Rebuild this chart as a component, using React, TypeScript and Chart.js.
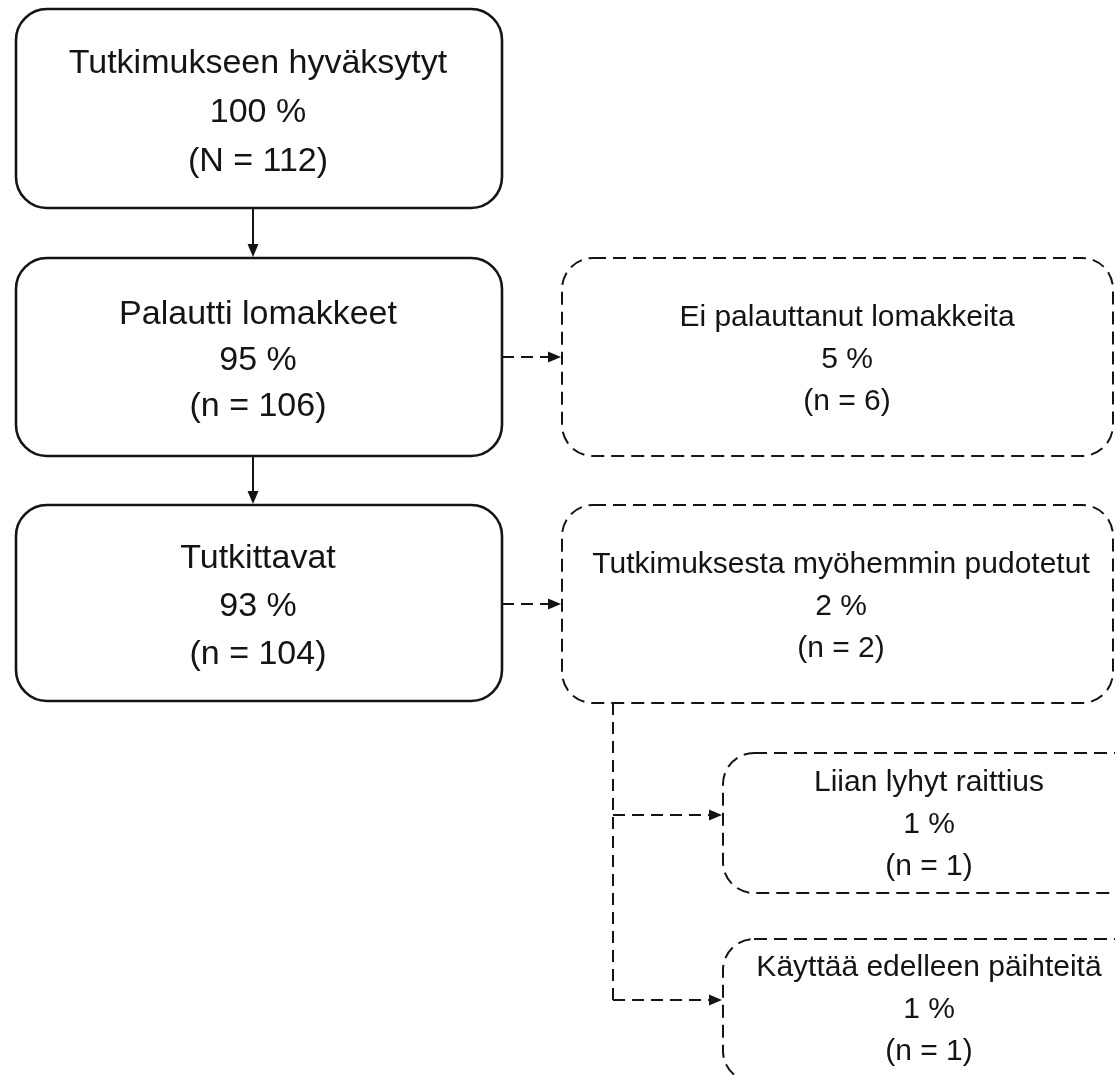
import { useEffect, useRef } from "react";
import { Chart, registerables } from "chart.js";

Chart.register(...registerables);

const W = 1115;
const H = 1075;

// ---- data ----
const stageLabels = [
  "Tutkimukseen hyväksytyt",
  "Palautti lomakkeet",
  "Tutkittavat",
  "Ei palauttanut lomakkeita",
  "Tutkimuksesta myöhemmin pudotetut",
  "Liian lyhyt raittius",
  "Käyttää edelleen päihteitä",
];
const stagePercents = [100, 95, 93, 5, 2, 1, 1];
const stageCounts = [112, 106, 104, 6, 2, 1, 1];
const stageCountSymbols = ["N", "n", "n", "n", "n", "n", "n"];
const stageIsDropout = [false, false, false, true, true, true, true];

// ---- layout (chart units = pixels) ----
const boxLeft = [16, 16, 16, 562, 562, 723, 723];
const boxTop = [9, 258, 505, 258, 505, 753, 939];
const boxRight = [502, 502, 502, 1113, 1113, 1145, 1145];
const boxBottom = [208, 456, 701, 456, 703, 893, 1082];
const textCenterX = [258, 258, 258, 847, 841, 929, 929];
const textMidY = [113, 361, 607, 360, 607, 825, 1010];
const lineGap = [49, 46, 48, 42, 42, 42, 42];
const fontPx = [34, 34, 34, 30, 30, 30, 30];

const flowFrom = [0, 1];
const flowTo = [1, 2];
const flowX = 253;
const sideFrom = [1, 2];
const sideTo = [3, 4];
const sideY = [357, 604];
const trunkX = 613;
const branchTo = [5, 6];
const branchY = [815, 1000];

const INK = "#141414";
const FONT = '"Liberation Sans", Arial, Helvetica, sans-serif';

function arrowHead(ctx: CanvasRenderingContext2D, tx: number, ty: number, dx: number, dy: number) {
  const len = 13;
  const half = 5.5;
  const nx = -dy;
  const ny = dx;
  ctx.save();
  ctx.setLineDash([]);
  ctx.fillStyle = INK;
  ctx.beginPath();
  ctx.moveTo(tx, ty);
  ctx.lineTo(tx - dx * len + nx * half, ty - dy * len + ny * half);
  ctx.lineTo(tx - dx * len - nx * half, ty - dy * len - ny * half);
  ctx.closePath();
  ctx.fill();
  ctx.restore();
}

const flowPlugin = {
  id: "flowPlugin",
  beforeDraw(chart: any) {
    const { ctx } = chart;
    ctx.save();
    ctx.fillStyle = "#ffffff";
    ctx.fillRect(0, 0, chart.width, chart.height);
    ctx.restore();
  },
  afterDatasetsDraw(chart: any) {
    const { ctx } = chart;
    const xs = chart.scales.x;
    const ys = chart.scales.y;
    const px = (v: number) => xs.getPixelForValue(v);
    const py = (v: number) => ys.getPixelForValue(v);

    ctx.save();
    ctx.strokeStyle = INK;
    ctx.lineCap = "butt";

    // boxes
    stageLabels.forEach((label, i) => {
      const x0 = px(boxLeft[i]);
      const x1 = px(boxRight[i]);
      const y0 = py(boxTop[i]);
      const y1 = py(boxBottom[i]);
      ctx.beginPath();
      if (stageIsDropout[i]) {
        ctx.setLineDash([13, 7]);
        ctx.lineWidth = 2;
      } else {
        ctx.setLineDash([]);
        ctx.lineWidth = 2.6;
      }
      ctx.roundRect(x0, y0, x1 - x0, y1 - y0, 31);
      ctx.stroke();

      const lines = [
        label,
        `${stagePercents[i]} %`,
        `(${stageCountSymbols[i]} = ${stageCounts[i]})`,
      ];
      ctx.setLineDash([]);
      ctx.fillStyle = INK;
      ctx.font = `${fontPx[i]}px ${FONT}`;
      ctx.textAlign = "center";
      ctx.textBaseline = "middle";
      const cx = px(textCenterX[i]);
      const cy = py(textMidY[i]);
      lines.forEach((t, k) => {
        ctx.fillText(t, cx, cy + (k - 1) * lineGap[i]);
      });
    });

    // solid vertical flow arrows
    ctx.setLineDash([]);
    ctx.lineWidth = 2;
    flowFrom.forEach((f, k) => {
      const t = flowTo[k];
      const x = px(flowX);
      const y0 = py(boxBottom[f]);
      const y1 = py(boxTop[t]);
      ctx.beginPath();
      ctx.moveTo(x, y0);
      ctx.lineTo(x, y1 - 10);
      ctx.stroke();
      arrowHead(ctx, x, y1 - 1, 0, 1);
    });

    // dashed side arrows
    ctx.lineWidth = 2;
    sideFrom.forEach((f, k) => {
      const t = sideTo[k];
      const y = py(sideY[k]);
      const x0 = px(boxRight[f]);
      const x1 = px(boxLeft[t]);
      ctx.setLineDash([12, 7]);
      ctx.beginPath();
      ctx.moveTo(x0, y);
      ctx.lineTo(x1 - 11, y);
      ctx.stroke();
      arrowHead(ctx, x1 - 1, y, 1, 0);
    });

    // dashed trunk and branches
    ctx.setLineDash([12, 7]);
    ctx.beginPath();
    ctx.moveTo(px(trunkX), py(boxBottom[4]));
    ctx.lineTo(px(trunkX), py(branchY[branchY.length - 1]));
    ctx.stroke();
    branchTo.forEach((t, k) => {
      const y = py(branchY[k]);
      const x0 = px(trunkX);
      const x1 = px(boxLeft[t]);
      ctx.setLineDash([12, 7]);
      ctx.beginPath();
      ctx.moveTo(x0, y);
      ctx.lineTo(x1 - 11, y);
      ctx.stroke();
      arrowHead(ctx, x1 - 1, y, 1, 0);
    });

    ctx.restore();
  },
};

export default function App() {
  const ref = useRef<HTMLCanvasElement | null>(null);

  useEffect(() => {
    if (!ref.current) return;
    const chart = new Chart(ref.current, {
      type: "scatter",
      data: {
        datasets: [
          {
            label: "Vaiheet",
            data: stageLabels.map((_, i) => ({ x: textCenterX[i], y: textMidY[i] })),
            pointRadius: 0,
            pointHoverRadius: 0,
            showLine: false,
          },
        ],
      },
      options: {
        animation: false,
        responsive: false,
        devicePixelRatio: 1,
        layout: { padding: 0 },
        events: [],
        scales: {
          x: { type: "linear", min: 0, max: W, display: false },
          y: { type: "linear", min: 0, max: H, reverse: true, display: false },
        },
        plugins: {
          legend: { display: false },
          tooltip: { enabled: false },
          title: { display: false },
        },
      },
      plugins: [flowPlugin],
    });
    return () => chart.destroy();
  }, []);

  return (
    <div
      style={{
        position: "fixed",
        left: 0,
        top: 0,
        width: W,
        height: H,
        background: "#ffffff",
        overflow: "hidden",
      }}
    >
      <canvas ref={ref} width={W} height={H} style={{ display: "block", width: W, height: H }} />
    </div>
  );
}
